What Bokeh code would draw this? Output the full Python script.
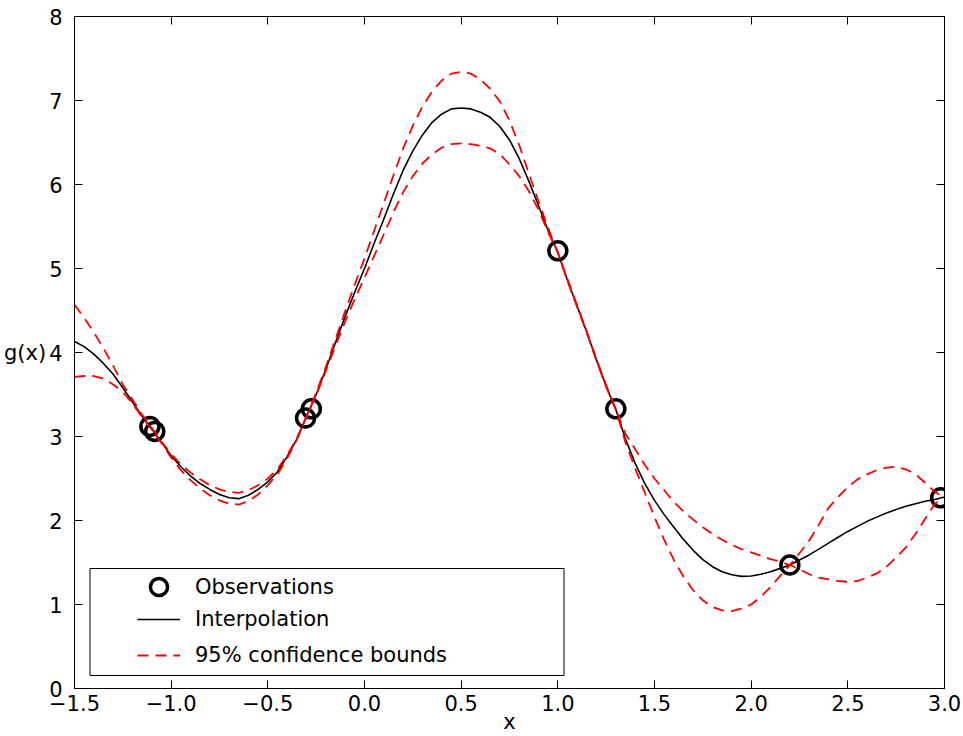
from bokeh.plotting import figure
from bokeh.models import (Range1d, LinearAxis, FixedTicker, Legend, LegendItem,
                          BoxAnnotation)
from bokeh.embed import file_html
from bokeh.resources import INLINE

# ---------------- data ----------------
x_grid = [-1.50, -1.45, -1.40, -1.35, -1.30, -1.25, -1.20, -1.15, -1.10, -1.05,
          -1.00, -0.95, -0.90, -0.85, -0.80, -0.75, -0.70, -0.65, -0.60, -0.55,
          -0.50, -0.45, -0.40, -0.35, -0.30, -0.25, -0.20, -0.15, -0.10, -0.05,
          0.00, 0.05, 0.10, 0.15, 0.20, 0.25, 0.30, 0.35, 0.40, 0.45,
          0.50, 0.55, 0.60, 0.65, 0.70, 0.75, 0.80, 0.85, 0.90, 0.95,
          1.00, 1.05, 1.10, 1.15, 1.20, 1.25, 1.30, 1.35, 1.40, 1.45,
          1.50, 1.55, 1.60, 1.65, 1.70, 1.75, 1.80, 1.85, 1.90, 1.95,
          2.00, 2.05, 2.10, 2.15, 2.20, 2.25, 2.30, 2.35, 2.40, 2.45,
          2.50, 2.55, 2.60, 2.65, 2.70, 2.75, 2.80, 2.85, 2.90, 2.95, 3.00]

interp_mean = [4.13, 4.07, 3.98, 3.87, 3.74, 3.58, 3.41, 3.24, 3.09, 2.93,
               2.77, 2.64, 2.53, 2.44, 2.37, 2.31, 2.27, 2.26, 2.30, 2.37,
               2.46, 2.58, 2.76, 2.97, 3.24, 3.50, 3.80, 4.12, 4.43, 4.72,
               5.00, 5.30, 5.59, 5.89, 6.17, 6.40, 6.59, 6.74, 6.84, 6.90,
               6.91, 6.90, 6.86, 6.80, 6.69, 6.53, 6.31, 6.04, 5.75, 5.45,
               5.19, 4.86, 4.55, 4.24, 3.91, 3.60, 3.32, 2.97, 2.68, 2.44,
               2.24, 2.07, 1.92, 1.775, 1.645, 1.535, 1.45, 1.39, 1.355, 1.335,
               1.34, 1.36, 1.39, 1.43, 1.47, 1.53, 1.59, 1.66, 1.73, 1.80,
               1.87, 1.93, 1.99, 2.04, 2.09, 2.13, 2.17, 2.20, 2.23, 2.25, 2.28]

upper_bound = [4.57, 4.41, 4.24, 4.05, 3.84, 3.62, 3.44, 3.26, 3.10, 2.94,
               2.79, 2.67, 2.57, 2.49, 2.42, 2.37, 2.34, 2.33, 2.36, 2.42,
               2.50, 2.61, 2.78, 2.98, 3.24, 3.52, 3.83, 4.16, 4.49, 4.81,
               5.12, 5.45, 5.78, 6.11, 6.43, 6.70, 6.93, 7.11, 7.24, 7.32,
               7.34, 7.32, 7.25, 7.14, 6.99, 6.76, 6.47, 6.13, 5.80, 5.48,
               5.19, 4.87, 4.56, 4.25, 3.92, 3.61, 3.32, 3.03, 2.85, 2.66,
               2.50, 2.36, 2.22, 2.11, 2.01, 1.92, 1.84, 1.77, 1.71, 1.66,
               1.62, 1.58, 1.54, 1.51, 1.47, 1.61, 1.76, 1.95, 2.15, 2.28,
               2.40, 2.49, 2.55, 2.60, 2.63, 2.64, 2.61, 2.55, 2.45, 2.34, 2.27]

lower_bound = [3.71, 3.72, 3.72, 3.69, 3.62, 3.53, 3.39, 3.23, 3.08, 2.92,
               2.75, 2.60, 2.48, 2.38, 2.30, 2.24, 2.20, 2.19, 2.23, 2.31,
               2.42, 2.55, 2.74, 2.96, 3.24, 3.49, 3.78, 4.08, 4.37, 4.64,
               4.89, 5.15, 5.41, 5.67, 5.91, 6.10, 6.25, 6.36, 6.44, 6.48,
               6.49, 6.48, 6.46, 6.43, 6.36, 6.24, 6.10, 5.92, 5.70, 5.43,
               5.19, 4.85, 4.54, 4.23, 3.90, 3.59, 3.32, 2.93, 2.62, 2.33,
               2.04, 1.77, 1.53, 1.33, 1.17, 1.05, 0.97, 0.93, 0.92, 0.95,
               1.00, 1.09, 1.21, 1.34, 1.47, 1.42, 1.36, 1.32, 1.30, 1.28,
               1.27, 1.28, 1.32, 1.37, 1.45, 1.56, 1.68, 1.84, 2.02, 2.20, 2.27]

obs_x = [-1.11, -1.085, -0.305, -0.275, 1.0, 1.3, 2.2, 2.98]
obs_y = [3.12, 3.06, 3.22, 3.33, 5.21, 3.33, 1.47, 2.27]

x_ticks = [-1.5, -1.0, -0.5, 0.0, 0.5, 1.0, 1.5, 2.0, 2.5, 3.0]
x_tick_labels = ["\u22121.5", "\u22121.0", "\u22120.5", "0.0", "0.5", "1.0",
                 "1.5", "2.0", "2.5", "3.0"]
y_ticks = [0, 1, 2, 3, 4, 5, 6, 7, 8]
y_tick_labels = ["0", "1", "2", "3", "4", "5", "6", "7", "8"]

legend_labels = ["Observations", "Interpolation", "95% confidence bounds"]
x_label = "x"
y_label = "g(x)"

# ---------------- figure ----------------
FONT = "DejaVu Sans"
FS = "21px"

p = figure(width=963, height=736, output_backend="svg", toolbar_location=None,
           x_range=Range1d(-1.5, 3.0), y_range=Range1d(0, 8),
           min_border_left=74, min_border_right=19, min_border_top=16,
           min_border_bottom=47, background_fill_color="white",
           border_fill_color="white")
p.xgrid.visible = False
p.ygrid.visible = False
p.outline_line_color = "black"
p.outline_line_width = 1


def style_axis(ax, ticks, labels, show_labels=True):
    ax.ticker = FixedTicker(ticks=ticks)
    ax.minor_tick_line_color = None
    ax.major_tick_in = 8
    ax.major_tick_out = 0
    ax.major_tick_line_color = "black"
    ax.major_tick_line_width = 1
    ax.axis_line_color = "black"
    ax.axis_line_width = 1
    ax.major_label_text_font = FONT
    if show_labels:
        ax.major_label_overrides = {t: l for t, l in zip(ticks, labels)}
        ax.major_label_text_font_size = FS
        ax.major_label_text_color = "black"
    else:
        ax.major_label_text_font_size = "1px"
        ax.major_label_text_color = None
        ax.major_label_standoff = 0


xb = p.xaxis[0]
yl = p.yaxis[0]
style_axis(xb, x_ticks, x_tick_labels)
style_axis(yl, y_ticks, y_tick_labels)
xb.major_label_standoff = 6
yl.major_label_standoff = 12

for ax, lab in ((xb, x_label), (yl, y_label)):
    ax.axis_label = lab
    ax.axis_label_text_font = FONT
    ax.axis_label_text_font_size = FS
    ax.axis_label_text_font_style = "normal"
    ax.axis_label_text_color = "black"
xb.axis_label_standoff = -4
yl.axis_label_orientation = "horizontal"
yl.axis_label_standoff = 0

xt = LinearAxis()
style_axis(xt, x_ticks, x_tick_labels, show_labels=False)
p.add_layout(xt, "above")
yr = LinearAxis()
style_axis(yr, y_ticks, y_tick_labels, show_labels=False)
p.add_layout(yr, "right")

# ---------------- glyphs ----------------
r_obs = p.scatter(obs_x, obs_y, marker="circle", size=18, fill_color=None,
                  line_color="black", line_width=3.5)
r_mean = p.line(x_grid, interp_mean, line_color="black", line_width=1.6)
r_up = p.line(x_grid, upper_bound, line_color="red", line_width=1.8,
              line_dash="11 7")
r_lo = p.line(x_grid, lower_bound, line_color="red", line_width=1.8,
              line_dash="11 7")

# ---------------- legend ----------------
box = BoxAnnotation(left=15.5, right=489.5, bottom=13, top=120,
                    left_units="screen", right_units="screen",
                    bottom_units="screen", top_units="screen",
                    fill_color="white", fill_alpha=1.0,
                    line_color="black", line_width=1, line_alpha=1)
p.add_layout(box)


def legend_row(label, renderer, gh, loc):
    return Legend(items=[LegendItem(label=label, renderers=[renderer])],
                  location=loc, orientation="vertical",
                  label_text_font=FONT, label_text_font_size=FS,
                  label_text_color="black",
                  glyph_width=43, glyph_height=gh, label_height=gh,
                  spacing=0, padding=5, label_standoff=15, margin=0,
                  border_line_alpha=0, background_fill_alpha=0)


p.add_layout(legend_row(legend_labels[0], r_obs, 43, (58, 75)))
p.add_layout(legend_row(legend_labels[1], r_mean, 34, (58, 47)))
p.add_layout(legend_row(legend_labels[2], r_up, 34, (58, 11)))

open("out.html", "w").write(file_html(p, INLINE))
